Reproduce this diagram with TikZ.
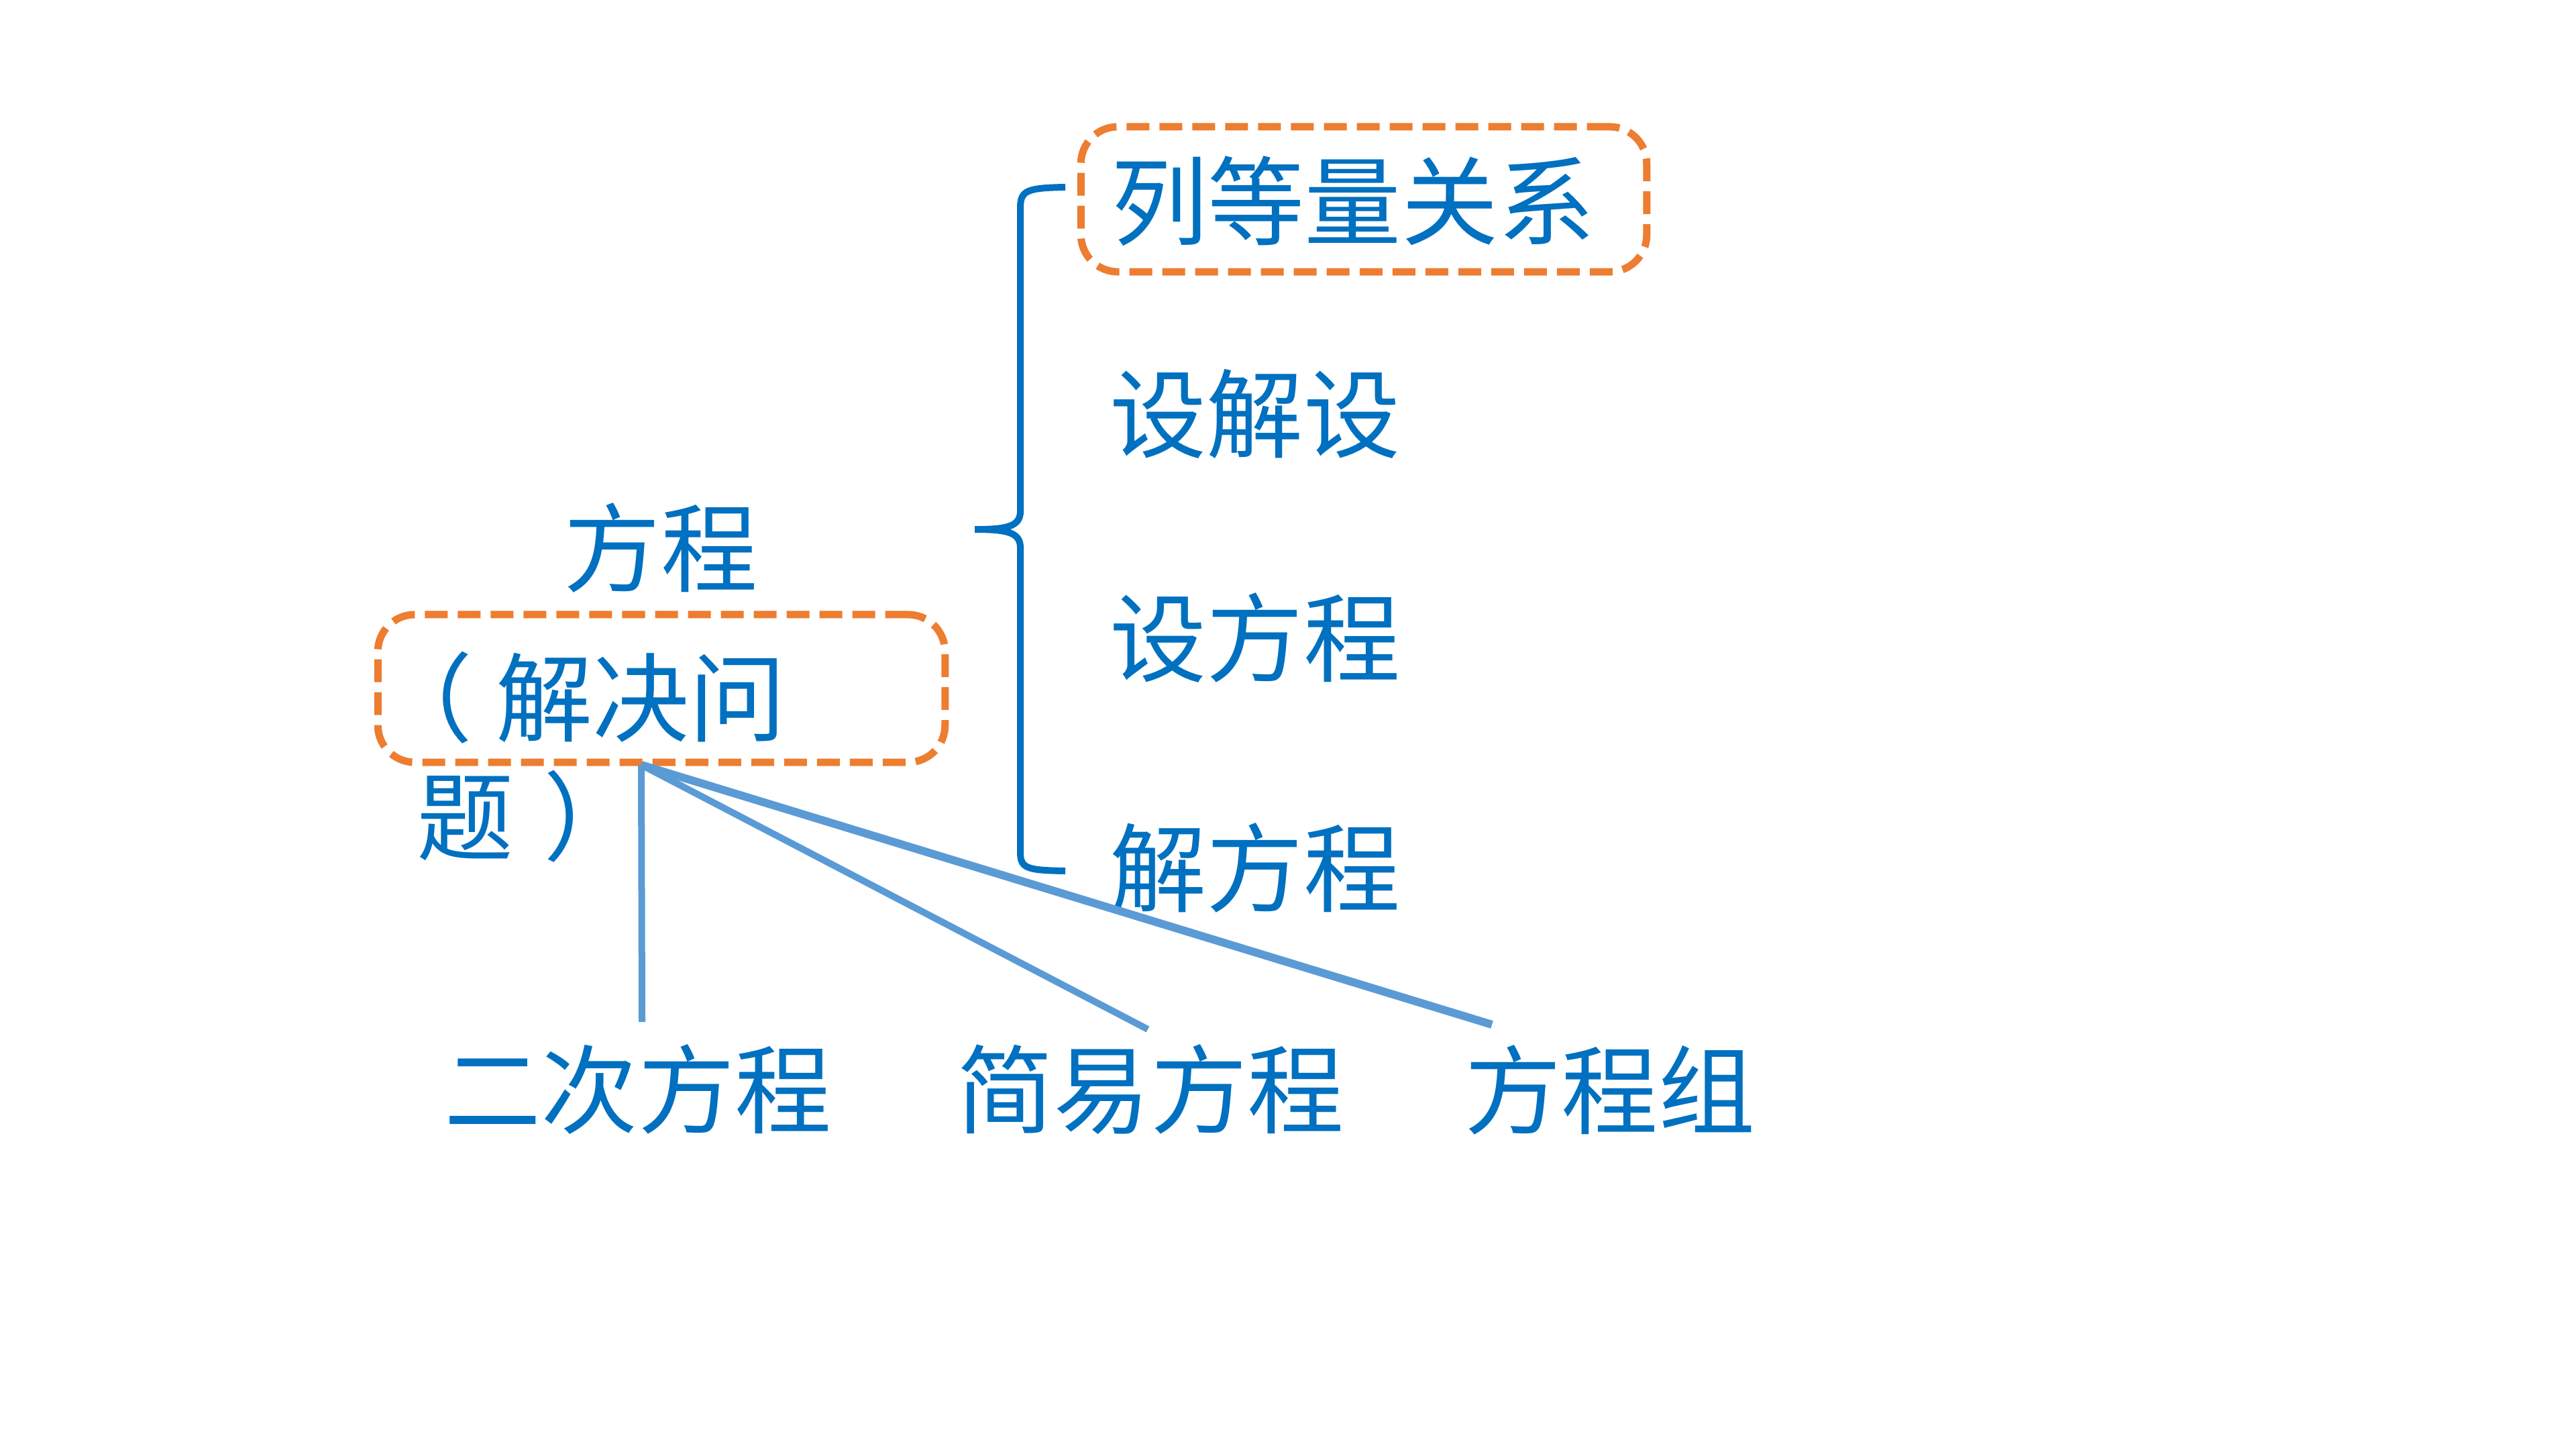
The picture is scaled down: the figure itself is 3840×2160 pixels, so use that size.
\documentclass[tikz,border=0pt]{standalone}
\usepackage{fontspec}
\setmainfont{Noto Sans CJK SC}
\definecolor{tblue}{HTML}{0070C0}
\definecolor{lblue}{HTML}{5B9BD5}
\definecolor{dorange}{HTML}{ED7D31}
\tikzset{
 lbl/.style={text=tblue, font=\fontsize{41pt}{49pt}\selectfont, inner sep=0pt},
 dbox/.style={draw=dorange, line width=0.11cm, dash pattern=on 0.34cm off 0.15cm, rounded corners=0.55cm, inner sep=0pt},
 link/.style={draw=lblue, line width=0.1cm},
 bracepath/.style={draw=tblue, line width=0.1cm}
}
\begin{document}
\begin{tikzpicture}[x=0.01cm,y=-0.01cm]
\useasboundingbox[fill=white] (0,0) rectangle (3840,2160);
% right column
\node[lbl] (s1) at (2017,300) {列等量关系};
\node[dbox, minimum width=8.43cm, minimum height=2.16cm] (topbox) at (2033,297) {};
\node[lbl] (s2) at (1871,617) {设解设};
\node[lbl] (s3) at (1871,950) {设方程};
\node[lbl] (s4) at (1871,1293) {解方程};
% brace
\draw[bracepath] (1588,279) .. controls (1530,280) and (1521,284) .. (1521,310) -- (1521,762)
  .. controls (1521,785) and (1500,789) .. (1453,789)
  .. controls (1500,789) and (1521,793) .. (1521,816) -- (1521,1270)
  .. controls (1521,1294) and (1530,1297) .. (1588,1298);
% left
\node[lbl] (fc) at (985,816) {方程};
\node[dbox, minimum width=8.45cm, minimum height=2.2cm] (leftbox) at (986,1026) {};
\node[lbl, anchor=west] (q1) at (560,1040) {（\kern0.24em 解决问};
\node[lbl, anchor=west] (q2) at (621,1217) {题\kern0.31em ）};
% bottom
\node[lbl] (b1) at (951,1624) {二次方程};
\node[lbl] (b2) at (1715,1624) {简易方程};
\node[lbl] (b3) at (2400,1624) {方程组};
\coordinate (hub) at (956,1140);
\coordinate (e1) at (957,1523);
\coordinate (e2) at (1711,1534);
\coordinate (e3) at (2224,1527);
\draw[link] (hub) -- (e1);
\draw[link] (hub) -- (e2);
\draw[link, line width=0.12cm] (hub) -- (e3);
\end{tikzpicture}
\end{document}
